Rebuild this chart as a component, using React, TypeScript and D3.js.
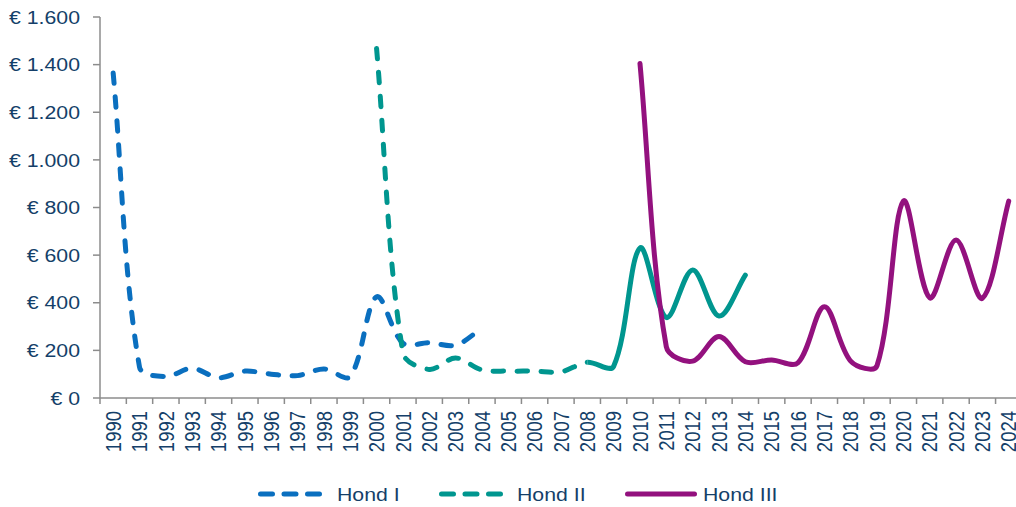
import React from "react";
import * as d3 from "d3";

const years: string[] = Array.from({ length: 35 }, (_, i) => String(1990 + i));

const hond1Years = ["1990","1991","1992","1993","1994","1995","1996","1997","1998","1999","2000","2001","2002","2003","2004"];
const hond1Values = [1365, 130, 90, 125, 85, 113, 100, 94, 122, 90, 425, 230, 232, 222, 293];

const hond2Years = ["2000","2001","2002","2003","2004","2005","2006","2007","2008","2009","2010","2011","2012","2013","2014"];
const hond2Values = [1468, 190, 120, 168, 118, 113, 113, 110, 150, 133, 630, 338, 538, 344, 516];

const hond3Years = ["2010","2011","2012","2013","2014","2015","2016","2017","2018","2019","2020","2021","2022","2023","2024"];
const hond3Values = [1405, 215, 155, 258, 152, 160, 148, 383, 155, 136, 827, 421, 663, 419, 827];

const yTicks = [0, 200, 400, 600, 800, 1000, 1200, 1400, 1600];
const yTickLabels = ["€ 0", "€ 200", "€ 400", "€ 600", "€ 800", "€ 1.000", "€ 1.200", "€ 1.400", "€ 1.600"];

const legendLabels = ["Hond I", "Hond II", "Hond III"];

const BLUE = "#0A6FBF";
const TEAL = "#00968F";
const PURPLE = "#93117E";
const TEXT = "#143F69";
const AXIS = "#8C8C8C";

const W = 1016;
const H = 507;
const left = 100;
const bandW = 26.34;
const top = 17;
const bottom = 398;
const FS = 18.5;
const SX = 1.15;

// Excel-like smoothing: Bezier control points along neighbour chord, weighted by segment lengths
function smoothPath(pts: [number, number][]): string {
  const p = d3.path();
  if (!pts.length) return "";
  p.moveTo(pts[0][0], pts[0][1]);
  const s = 1 / 3;
  const dist = (a: [number, number], b: [number, number]) => Math.hypot(b[0] - a[0], b[1] - a[1]);
  for (let i = 0; i < pts.length - 1; i++) {
    const p0 = pts[i - 1] || pts[i];
    const p1 = pts[i];
    const p2 = pts[i + 1];
    const p3 = pts[i + 2] || pts[i + 1];
    const d01 = dist(p0, p1);
    const d12 = dist(p1, p2);
    const d23 = dist(p2, p3);
    const f1 = d01 + d12 > 0 ? (s * d12) / (d01 + d12) : 0;
    const f2 = d12 + d23 > 0 ? (s * d12) / (d12 + d23) : 0;
    const c1x = p1[0] + (p2[0] - p0[0]) * f1;
    const c1y = p1[1] + (p2[1] - p0[1]) * f1;
    const c2x = p2[0] - (p3[0] - p1[0]) * f2;
    const c2y = p2[1] - (p3[1] - p1[1]) * f2;
    p.bezierCurveTo(c1x, c1y, c2x, c2y, p2[0], p2[1]);
  }
  return p.toString();
}

export default function App() {
  const x = d3.scaleBand<string>().domain(years).range([left, left + bandW * years.length]).paddingInner(0).paddingOuter(0);
  const cx = (yr: string) => (x(yr) as number) + x.bandwidth() / 2;
  const y = d3.scaleLinear().domain([0, 1600]).range([bottom, top]);

  const toPts = (ys: string[], vs: number[]) => ys.map((yr, i) => [cx(yr), y(vs[i])] as [number, number]);
  const p1 = smoothPath(toPts(hond1Years, hond1Values));
  const p2 = smoothPath(toPts(hond2Years, hond2Values));
  const p3 = smoothPath(toPts(hond3Years, hond3Values));
  const splitX = cx("2008");

  const sw = 5;
  const dash = "10.5 13.5";

  const boundaries = d3.range(years.length + 1).map((i) => left + i * bandW);

  const legend = [
    { label: legendLabels[0], color: BLUE, dashed: true, x0: 258, x1: 322, tx: 337 },
    { label: legendLabels[1], color: TEAL, dashed: true, x0: 439, x1: 503, tx: 517 },
    { label: legendLabels[2], color: PURPLE, dashed: false, x0: 625, x1: 697, tx: 703 },
  ];

  return (
    <svg
      width={W}
      height={H}
      style={{ position: "absolute", left: 0, top: 0, background: "#fff" }}
      fontFamily="'Liberation Sans', Arial, sans-serif"
    >
      <defs>
        <clipPath id="clipDash">
          <rect x={0} y={0} width={splitX} height={H} />
        </clipPath>
        <clipPath id="clipSolid">
          <rect x={splitX} y={0} width={W - splitX} height={H} />
        </clipPath>
      </defs>

      {/* y axis */}
      <line x1={left} x2={left} y1={top} y2={bottom} stroke={AXIS} strokeWidth={1.5} />
      {yTicks.map((t, i) => (
        <g key={t}>
          <line x1={left - 7} x2={left} y1={y(t)} y2={y(t)} stroke={AXIS} strokeWidth={1.5} />
          <text
            transform={`translate(80,${y(t)}) scale(${SX},1)`}
            dy="0.36em"
            textAnchor="end"
            fontSize={FS}
            fill={TEXT}
          >
            {yTickLabels[i]}
          </text>
        </g>
      ))}

      {/* x axis */}
      <line x1={left} x2={W} y1={bottom} y2={bottom} stroke={AXIS} strokeWidth={1.5} />
      {boundaries.map((bx, i) => (
        <line key={i} x1={bx} x2={bx} y1={bottom} y2={bottom + 6} stroke={AXIS} strokeWidth={1.5} />
      ))}
      {years.map((yr) => (
        <text
          key={yr}
          transform={`translate(${cx(yr)},${bottom + 13}) scale(${SX},1) rotate(-90)`}
          dy="0.36em"
          textAnchor="end"
          fontSize={FS}
          fill={TEXT}
        >
          {yr}
        </text>
      ))}

      {/* series */}
      <path d={p1} fill="none" stroke={BLUE} strokeWidth={sw} strokeDasharray={dash} strokeLinecap="round" />
      <path d={p2} fill="none" stroke={TEAL} strokeWidth={sw} strokeDasharray={dash} strokeLinecap="round" clipPath="url(#clipDash)" />
      <path d={p2} fill="none" stroke={TEAL} strokeWidth={sw} strokeLinecap="round" clipPath="url(#clipSolid)" />
      <path d={p3} fill="none" stroke={PURPLE} strokeWidth={sw} strokeLinecap="round" strokeLinejoin="round" />

      {/* legend */}
      {legend.map((l) => (
        <g key={l.label}>
          <line
            x1={l.x0 + 2.5}
            x2={l.x1 - 2.5}
            y1={494}
            y2={494}
            stroke={l.color}
            strokeWidth={sw}
            strokeLinecap="round"
            strokeDasharray={l.dashed ? "12 11.5" : undefined}
          />
          <text transform={`translate(${l.tx},494) scale(${SX},1)`} dy="0.36em" fontSize={FS} fill={TEXT}>
            {l.label}
          </text>
        </g>
      ))}
    </svg>
  );
}
